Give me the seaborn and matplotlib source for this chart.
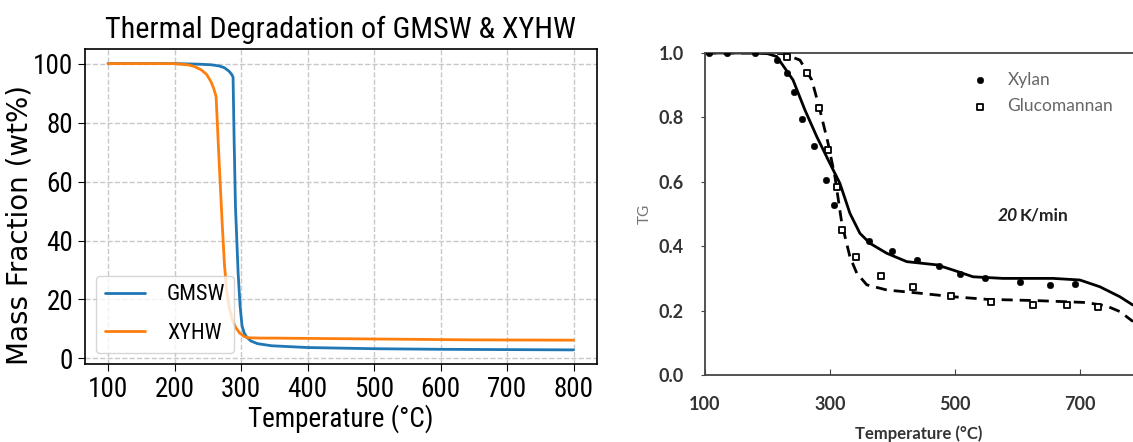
import seaborn as sns
import matplotlib.pyplot as plt
import pandas as pd

# Left panel: simulated TGA curves
gmsw_temp = [100, 150, 200, 237, 255, 267, 275, 282, 286, 288, 289.6, 291.6, 295.6, 298.5, 301.5, 305, 309, 315, 325, 346, 400, 500, 600, 700, 800]
gmsw_mass = [100, 100, 100, 99.8, 99.6, 99.2, 98.6, 97.4, 96.3, 95.4, 74, 51.6, 29, 18, 11, 8.5, 7.1, 5.9, 5.0, 4.3, 3.7, 3.3, 3.1, 3.0, 2.9]
xyhw_temp = [100, 150, 197, 220, 230, 240, 248, 255, 259, 262.5, 267, 271.6, 275, 278, 282, 287, 292, 298, 305, 312, 330, 350, 500, 650, 800]
xyhw_mass = [100, 100, 100, 99.6, 99.0, 97.9, 96.4, 93.8, 91.5, 88.8, 67, 46, 32, 24, 17.5, 13, 10.5, 8.6, 7.4, 7.0, 6.9, 6.9, 6.6, 6.3, 6.2]

# Right panel: published TG data (points) and model curves
xylan_temp = [107, 136, 180, 216, 232, 242, 256, 274, 293, 306, 362, 399, 440, 475, 508, 548, 604, 652, 692]
xylan_tg = [1.0, 1.0, 1.0, 0.978, 0.939, 0.88, 0.794, 0.712, 0.606, 0.528, 0.417, 0.386, 0.357, 0.339, 0.314, 0.300, 0.288, 0.280, 0.283]
gluco_temp = [232, 264, 283, 297, 311, 320, 341, 381, 433, 494, 557, 625, 679, 729]
gluco_tg = [0.989, 0.937, 0.828, 0.699, 0.585, 0.450, 0.367, 0.308, 0.272, 0.246, 0.228, 0.217, 0.216, 0.212]

xylan_fit_temp = [100, 180, 200, 215, 241, 260, 279, 300, 316, 332, 348, 364, 391, 423, 471, 497, 529, 577, 657, 700, 732, 764, 785]
xylan_fit_tg = [1.0, 1.0, 0.998, 0.989, 0.916, 0.823, 0.74, 0.657, 0.595, 0.502, 0.44, 0.409, 0.378, 0.352, 0.342, 0.326, 0.305, 0.300, 0.300, 0.295, 0.274, 0.243, 0.217]
gluco_fit_temp = [100, 200, 225, 252, 271, 284, 297, 308, 319, 332, 343, 359, 391, 444, 497, 551, 631, 711, 743, 764, 785]
gluco_fit_tg = [1.0, 1.0, 0.998, 0.978, 0.916, 0.823, 0.72, 0.616, 0.471, 0.367, 0.316, 0.28, 0.264, 0.254, 0.243, 0.235, 0.231, 0.225, 0.214, 0.197, 0.166]

left_df = pd.concat([
    pd.DataFrame({"Temperature": gmsw_temp, "Mass": gmsw_mass, "Sample": "GMSW"}),
    pd.DataFrame({"Temperature": xyhw_temp, "Mass": xyhw_mass, "Sample": "XYHW"}),
])

sns.set_style("ticks")
plt.rcParams["font.family"] = ["Roboto Condensed", "Open Sans", "DejaVu Sans"]
plt.rcParams["font.stretch"] = "condensed"

fig = plt.figure(figsize=(11.33, 4.42), dpi=100)

# ---- left panel ----
ax1 = fig.add_axes([0.0748, 0.176, 0.452, 0.7125])
sns.lineplot(data=left_df, x="Temperature", y="Mass", hue="Sample",
             palette=["#1f77b4", "#ff7f0e"], linewidth=2, sort=False, ax=ax1)
ax1.grid(True, linestyle="--", color="#c8c8c8", linewidth=1)
ax1.set_xticks(range(100, 801, 100))
ax1.set_yticks(range(0, 101, 20))
ax1.tick_params(labelsize=19.5, length=5, color="black", labelcolor="black")
for s in ax1.spines.values():
    s.set_color("black")
    s.set_linewidth(1.2)
ax1.set_title("Thermal Degradation of GMSW & XYHW", fontsize=21.7, pad=8, color="black")
ax1.set_xlabel("Temperature (°C)", fontsize=19.5, labelpad=1, color="black")
ax1.set_ylabel("Mass Fraction (wt%)", fontsize=20, family=["DejaVu Sans"],
               fontstretch="normal", color="black")
ax1.yaxis.set_label_coords(-0.101, 0.442)
leg1 = ax1.legend(loc="lower left", fontsize=16, labelspacing=0.8, handlelength=1.8,
                  handletextpad=1.0, frameon=True, edgecolor="#cccccc", title=None)
for t in leg1.get_texts():
    t.set_color("black")

# ---- right panel ----
ax2 = fig.add_axes([0.6222, 0.1516, 0.3778, 0.7285])
sns.lineplot(x=xylan_fit_temp, y=xylan_fit_tg, color="black", linewidth=2, ax=ax2)
sns.lineplot(x=gluco_fit_temp, y=gluco_fit_tg, color="black", linewidth=2,
             linestyle=(0, (4, 2.5)), ax=ax2)
sns.scatterplot(x=xylan_temp, y=xylan_tg, color="black", s=22, edgecolor="black",
                marker="o", label="Xylan", ax=ax2, zorder=3)
sns.scatterplot(x=gluco_temp, y=gluco_tg, facecolor="white", edgecolor="black", s=24,
                linewidth=1.3, marker="s", label="Glucomannan", ax=ax2, zorder=3)
ax2.set_xlim(100, 785)
ax2.set_ylim(0, 1.0)
ax2.set_xticks([100, 300, 500, 700])
ax2.set_yticks([0.0, 0.2, 0.4, 0.6, 0.8, 1.0])
ax2.set_yticklabels(["0.0", "0.2", "0.4", "0.6", "0.8", "1.0"])
ax2.grid(False)
ax2.spines["right"].set_visible(False)
for name in ["left", "bottom", "top"]:
    ax2.spines[name].set_color("#444444")
    ax2.spines[name].set_linewidth(1.3)
ax2.tick_params(axis="x", direction="in", length=4, color="#444444", pad=15)
ax2.tick_params(axis="y", direction="out", length=3, color="#444444", pad=12)
right_font = ["Lato", "DejaVu Sans"]
for lab in ax2.get_xticklabels() + ax2.get_yticklabels():
    lab.set_family(right_font)
    lab.set_fontstretch("normal")
    lab.set_fontweight("bold")
    lab.set_fontsize(13)
    lab.set_color("#333333")
ax2.set_xlabel("Temperature (°C)", fontsize=12, fontweight="bold", color="#333333",
               family=right_font, fontstretch="normal", labelpad=9)
ax2.set_ylabel("TG", fontsize=11, color="#777777", family=right_font,
               fontstretch="normal", labelpad=5)
leg = ax2.legend(loc="upper right", bbox_to_anchor=(0.99, 0.99), frameon=False,
                 prop={"family": right_font, "size": 12.5, "stretch": "normal"},
                 handletextpad=0.6, labelspacing=0.6)
for t in leg.get_texts():
    t.set_color("#666666")
ax2.text(569, 0.494, "20", fontsize=12.5, fontweight="bold", style="italic",
         family=right_font, fontstretch="normal", color="#222222", va="center")
ax2.text(603, 0.494, "K/min", fontsize=12.5, fontweight="bold",
         family=right_font, fontstretch="normal", color="#222222", va="center")

fig.savefig("out.png", dpi=100)
